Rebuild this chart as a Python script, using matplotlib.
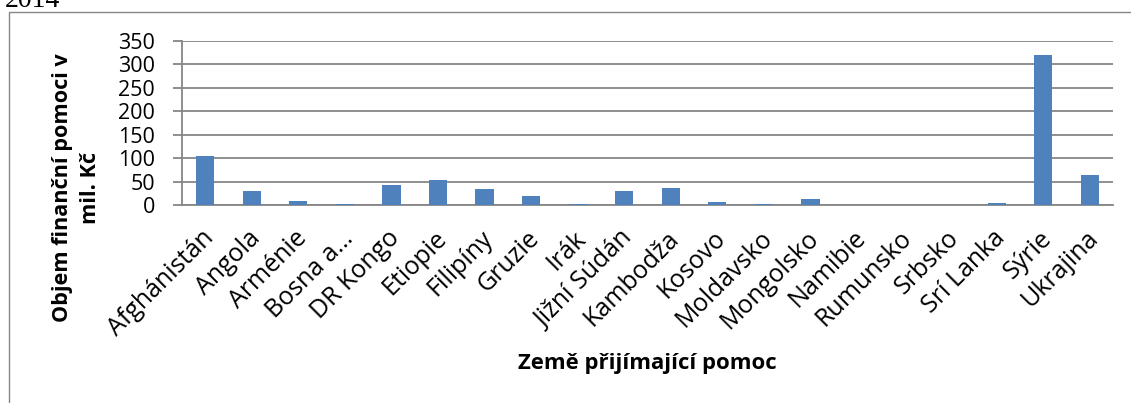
import matplotlib.pyplot as plt
from matplotlib.patches import Rectangle
from matplotlib.transforms import ScaledTranslation
import numpy as np

countries = ['Afghánistán', 'Angola', 'Arménie', 'Bosna a…', 'DR Kongo', 'Etiopie',
             'Filipíny', 'Gruzie', 'Irák', 'Jižní Súdán', 'Kambodža', 'Kosovo',
             'Moldavsko', 'Mongolsko', 'Namibie', 'Rumunsko', 'Srbsko', 'Srí Lanka',
             'Sýrie', 'Ukrajina']
aid_mil_czk = [105, 30, 8, 1.5, 43, 54, 34, 20, 3, 29, 36, 6, 3, 12, 1, 0, 0, 4.5, 321, 63]

yticks = [0, 50, 100, 150, 200, 250, 300, 350]

plt.rcParams['font.family'] = ['Open Sans', 'DejaVu Sans']

grid_col = '#868686'
bar_col = '#4F81BD'

fig = plt.figure(figsize=(11.31, 4.03), dpi=100)
ax = fig.add_axes([182/1131, 1-205/403, (1113-182)/1131, 164/403])

x = np.arange(len(countries))
ax.bar(x, aid_mil_czk, width=0.39, color=bar_col, zorder=3)

ax.set_xlim(-0.5, len(countries)-0.5)
ax.set_ylim(0, 350)
ax.set_yticks(yticks)
ax.yaxis.grid(True, color=grid_col, linewidth=1.3, zorder=0)

for s in ['top', 'right']:
    ax.spines[s].set_visible(False)
ax.spines['left'].set_color(grid_col)
ax.spines['bottom'].set_color(grid_col)
ax.spines['left'].set_linewidth(1.3)
ax.spines['bottom'].set_linewidth(1.3)

ax.tick_params(axis='y', length=6.5, width=1.3, color=grid_col, pad=13, labelsize=15.5)
ax.tick_params(axis='x', length=0, pad=15, labelsize=18)
ax.set_xticks(x)
ax.set_xticklabels(countries, rotation=45, ha='right', rotation_mode='anchor')
# nudge the slanted labels a little to the left
shift = ScaledTranslation(-4/100, 0, fig.dpi_scale_trans)
for lbl in ax.get_xticklabels():
    lbl.set_transform(lbl.get_transform() + shift)

# axis titles
fig.text(76.5/1131, 1-188/403, 'Objem finanční pomoci v\nmil. Kč', rotation=90,
         ha='center', va='center', multialignment='center', linespacing=1.4,
         fontsize=15.6, fontweight='bold')
fig.text(647/1131, 1-363/403, 'Země přijímající pomoc', ha='center', va='center',
         fontsize=15.9, fontweight='bold')

# chart frame and the cut-off caption above it
fig.patches.append(Rectangle((8.5/1131, -0.1), 1.2, 0.1+1-12.5/403, fill=False,
                             edgecolor=grid_col, linewidth=1.0,
                             transform=fig.transFigure, figure=fig))
fig.text(5/1131, 1-7/403, '2014', family='Liberation Serif', fontsize=20,
         ha='left', va='baseline')

fig.savefig('out.png', dpi=100)
